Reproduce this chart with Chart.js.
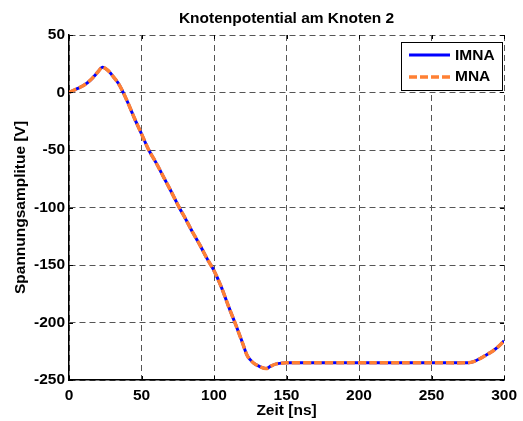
<!DOCTYPE html>
<html>
<head>
<meta charset="utf-8">
<script src="https://cdn.jsdelivr.net/npm/chart.js@4.4.0/dist/chart.umd.min.js"></script>
<style>
  html, body { margin: 0; padding: 0; background: #fff; }
  #chartWrap { width: 523px; height: 421px; }
</style>
</head>
<body>
<div id="chartWrap"><canvas id="mainChart" width="523" height="421"></canvas></div>
<script>
// time axis in ns
const timeNs = [0, 5, 10, 15, 20, 23, 27, 31, 34, 37, 41, 45, 50, 55, 60, 65, 70, 76, 80, 85, 90, 95, 100,
  105, 110, 115, 120, 123, 127, 131, 136, 139, 143, 150, 170, 190, 210, 230, 250, 275, 279, 284, 288, 292, 296, 300];
const imnaValues = [0, 3, 6, 11, 18, 22, 19, 13, 8, 1, -10, -22, -36, -50, -61, -73, -85, -100, -109, -121, -132, -144, -155,
  -169, -186, -202, -219, -229, -235, -238, -240, -238, -236, -235, -235, -235, -235, -235, -235, -235, -234, -231, -228, -225, -221, -216];
const mnaValues = [0, 3, 6, 11, 18, 22, 19, 13, 8, 1, -10, -22, -36, -50, -61, -73, -85, -100, -109, -121, -132, -144, -155,
  -169, -186, -202, -219, -229, -235, -238, -240, -238, -236, -235, -235, -235, -235, -235, -235, -235, -234, -231, -228, -225, -221, -216];
const xTicks = [0, 50, 100, 150, 200, 250, 300];
const yTicks = [50, 0, -50, -100, -150, -200, -250];

const blue = '#0000ff';
const orange = '#ff8033';
const fontFam = '"Liberation Sans", Arial, sans-serif';
const fontSize = 15.5;

function toPoints(values) {
  return values.map((v, i) => ({ x: timeNs[i], y: v }));
}

// title, axis titles, inner ticks and legend box drawn by hand (MATLAB look)
const matlabDecor = {
  id: 'matlabDecor',
  afterDraw(chart) {
    const ctx = chart.ctx;
    const area = chart.chartArea;
    const xs = chart.scales.x, ys = chart.scales.y;

    // small ticks pointing inward on all four sides
    ctx.save();
    ctx.strokeStyle = '#000';
    ctx.lineWidth = 1;
    ctx.beginPath();
    xTicks.forEach(t => {
      const px = Math.round(xs.getPixelForValue(t)) + 0.5;
      ctx.moveTo(px, area.bottom); ctx.lineTo(px, area.bottom - 4);
      ctx.moveTo(px, area.top); ctx.lineTo(px, area.top + 4);
    });
    yTicks.forEach(t => {
      const py = Math.round(ys.getPixelForValue(t)) + 0.5;
      ctx.moveTo(area.left, py); ctx.lineTo(area.left + 4, py);
      ctx.moveTo(area.right, py); ctx.lineTo(area.right - 4, py);
    });
    ctx.stroke();
    ctx.restore();

    ctx.save();
    ctx.fillStyle = '#000';
    ctx.font = 'bold ' + fontSize + 'px ' + fontFam;
    ctx.textAlign = 'center';
    ctx.textBaseline = 'middle';
    ctx.fillText('Knotenpotential am Knoten 2', (area.left + area.right) / 2, 19);
    ctx.fillText('Zeit [ns]', (area.left + area.right) / 2, 411);

    ctx.translate(21, (area.top + area.bottom) / 2);
    ctx.rotate(-Math.PI / 2);
    ctx.fillText('Spannungsamplitue [V]', 0, 0);
    ctx.restore();

    // legend
    ctx.save();
    const lx = 401, ly = 42, lw = 101, lh = 48;
    ctx.fillStyle = '#fff';
    ctx.fillRect(lx, ly, lw, lh);
    ctx.strokeStyle = '#000';
    ctx.lineWidth = 1;
    ctx.strokeRect(lx + 0.5, ly + 0.5, lw, lh);

    ctx.lineWidth = 3;
    ctx.strokeStyle = blue;
    ctx.beginPath();
    ctx.moveTo(409, 55);
    ctx.lineTo(450, 55);
    ctx.stroke();

    ctx.lineWidth = 3.5;
    ctx.strokeStyle = orange;
    ctx.setLineDash([8, 3]);
    ctx.beginPath();
    ctx.moveTo(409, 77);
    ctx.lineTo(450, 77);
    ctx.stroke();
    ctx.setLineDash([]);

    ctx.fillStyle = '#000';
    ctx.font = 'bold ' + fontSize + 'px ' + fontFam;
    ctx.textAlign = 'left';
    ctx.textBaseline = 'middle';
    ctx.fillText('IMNA', 455, 56);
    ctx.fillText('MNA', 455, 77);
    ctx.restore();
  }
};

const ctx = document.getElementById('mainChart').getContext('2d');
const chart = new Chart(ctx, {
  type: 'line',
  data: {
    datasets: [
      {
        label: 'IMNA',
        data: toPoints(imnaValues),
        borderColor: blue,
        borderWidth: 3,
        pointRadius: 0,
        tension: 0.3,
        fill: false,
        order: 2
      },
      {
        label: 'MNA',
        data: toPoints(mnaValues),
        borderColor: orange,
        borderWidth: 3.5,
        borderDash: [8, 3],
        pointRadius: 0,
        tension: 0.3,
        fill: false,
        order: 1
      }
    ]
  },
  options: {
    responsive: false,
    animation: false,
    layout: { padding: { top: 35, right: 16, left: 0, bottom: 0 } },
    plugins: {
      legend: { display: false },
      title: { display: false },
      tooltip: { enabled: false }
    },
    scales: {
      x: {
        type: 'linear',
        min: 0,
        max: 300,
        afterFit: s => { s.height = 41; },
        afterBuildTicks: s => { s.ticks = xTicks.map(v => ({ value: v })); },
        grid: { color: '#555', drawTicks: false },
        border: { display: true, color: '#000', width: 1.5, dash: [6, 4] },
        ticks: {
          color: '#000',
          font: { family: fontFam, size: fontSize, weight: 'bold' },
          padding: 6,
          maxRotation: 0
        }
      },
      y: {
        min: -250,
        max: 50,
        afterFit: s => { s.width = 69; },
        afterBuildTicks: s => { s.ticks = yTicks.map(v => ({ value: v })); },
        grid: { color: '#555', drawTicks: false },
        border: { display: true, color: '#000', width: 1.5, dash: [6, 4] },
        ticks: {
          color: '#000',
          font: { family: fontFam, size: fontSize, weight: 'bold' },
          padding: 4
        }
      }
    }
  },
  plugins: [matlabDecor]
});
</script>
</body>
</html>
